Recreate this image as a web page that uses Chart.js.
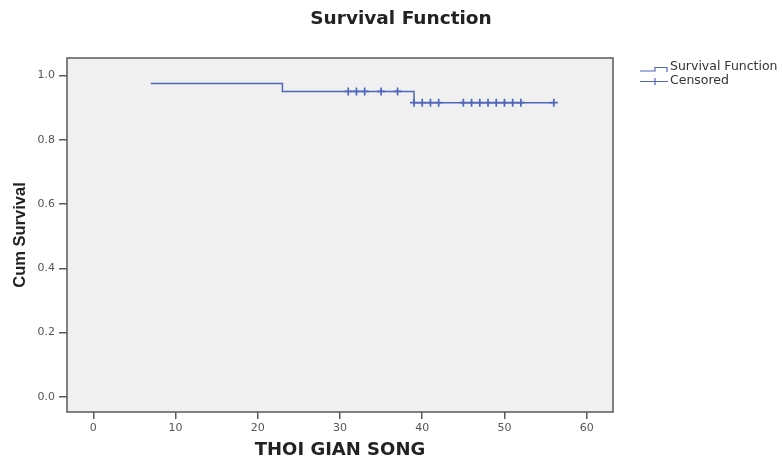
<!DOCTYPE html>
<html><head><meta charset="utf-8">
<script src="https://cdn.jsdelivr.net/npm/chart.js@4/dist/chart.umd.min.js"></script>
<style>html,body{margin:0;padding:0;background:#fff;} #wrap{width:782px;height:460px;position:relative;}</style>
</head><body><div id="wrap"><canvas id="c" width="782" height="460"></canvas></div>
<script>
const stepTimes = [7, 23, 39, 56];
const stepSurvival = [0.975, 0.95, 0.915, 0.915];
const censoredTimes = [31, 32, 33, 35, 37, 39, 40, 41, 42, 45, 46, 47, 48, 49, 50, 51, 52, 56];
const censoredSurvival = [0.95, 0.95, 0.95, 0.95, 0.95, 0.915, 0.915, 0.915, 0.915, 0.915, 0.915, 0.915, 0.915, 0.915, 0.915, 0.915, 0.915, 0.915];
const xTicks = [0, 10, 20, 30, 40, 50, 60];
const yTicks = [0, 0.2, 0.4, 0.6, 0.8, 1.0];
const seriesNames = ['Survival Function', 'Censored'];
const chartTitle = 'Survival Function';
const xTitle = 'THOI GIAN SONG';
const yTitle = 'Cum Survival';

const lineColor = '#4f67b8';
const frameColor = '#5a5a5a';

const bgPlugin = {
  id: 'bg',
  beforeDraw(chart) {
    const {ctx, chartArea: a} = chart;
    ctx.save();
    ctx.fillStyle = '#f0f0f0';
    ctx.fillRect(a.left, a.top, a.right - a.left, a.bottom - a.top);
    ctx.restore();
  },
  beforeDatasetsDraw(chart) {
    const {ctx, chartArea: a} = chart;
    ctx.save();
    ctx.strokeStyle = frameColor;
    ctx.lineWidth = 1.5;
    ctx.strokeRect(a.left, a.top, a.right - a.left, a.bottom - a.top);
    ctx.restore();
  }
};

const titleLegendPlugin = {
  id: 'titleLegend',
  afterDraw(chart) {
    const ctx = chart.ctx;
    ctx.save();
    ctx.fillStyle = '#222';
    ctx.font = 'bold 18.5px "DejaVu Sans"';
    ctx.textAlign = 'center';
    ctx.textBaseline = 'middle';
    ctx.fillText(chartTitle, 401, 19);
    ctx.strokeStyle = lineColor;
    ctx.lineWidth = 1.2;
    ctx.beginPath();
    ctx.moveTo(640, 71); ctx.lineTo(655, 71); ctx.lineTo(655, 67.5); ctx.lineTo(667, 67.5); ctx.lineTo(667, 72);
    ctx.stroke();
    ctx.beginPath();
    ctx.moveTo(640, 81.5); ctx.lineTo(668, 81.5);
    ctx.moveTo(655, 78); ctx.lineTo(655, 85);
    ctx.stroke();
    ctx.fillStyle = '#333';
    ctx.font = '12.5px "DejaVu Sans"';
    ctx.textAlign = 'left';
    ctx.fillText(seriesNames[0], 670, 67);
    ctx.fillText(seriesNames[1], 670, 81);
    ctx.restore();
  }
};

new Chart(document.getElementById('c'), {
  type: 'scatter',
  data: {
    datasets: [
      {
        label: seriesNames[0],
        data: stepTimes.map((x, i) => ({x: x, y: stepSurvival[i]})),
        showLine: true,
        stepped: true,
        borderColor: lineColor,
        borderWidth: 1.5,
        pointRadius: 0,
        fill: false
      },
      {
        label: seriesNames[1],
        data: censoredTimes.map((x, i) => ({x: x, y: censoredSurvival[i]})),
        showLine: false,
        pointStyle: 'cross',
        pointRadius: 4,
        pointBorderWidth: 1.7,
        borderColor: lineColor,
        backgroundColor: lineColor
      }
    ]
  },
  options: {
    responsive: false,
    animation: false,
    devicePixelRatio: 1,
    layout: {padding: {left: 0, right: 169, top: 58, bottom: 0}},
    plugins: {
      legend: {display: false},
      tooltip: {enabled: false},
      title: {display: false}
    },
    scales: {
      x: {
        type: 'linear',
        min: -3.2,
        max: 63.2,
        afterBuildTicks: s => { s.ticks = xTicks.map(v => ({value: v})); },
        afterFit: s => { s.height = 48; },
        border: {display: false},
        grid: {drawOnChartArea: false, drawTicks: true, tickLength: 7, color: frameColor, lineWidth: 1.5},
        ticks: {color: '#555', font: {family: 'DejaVu Sans', size: 11}, padding: 3, callback: v => String(v)},
        title: {display: true, text: xTitle, color: '#222', font: {family: 'DejaVu Sans', size: 18, weight: 'bold', lineHeight: 1.1}, padding: {top: 0, bottom: 0}}
      },
      y: {
        type: 'linear',
        min: -0.047,
        max: 1.054,
        afterBuildTicks: s => { s.ticks = yTicks.map(v => ({value: v})); },
        afterFit: s => { s.width = 67; },
        border: {display: false},
        grid: {drawOnChartArea: false, drawTicks: true, tickLength: 8, color: frameColor, lineWidth: 1.5},
        ticks: {color: '#555', font: {family: 'DejaVu Sans', size: 11}, padding: 4, callback: v => Number(v).toFixed(1)},
        title: {display: true, text: yTitle, color: '#222', font: {family: 'Liberation Sans', size: 16.5, weight: 'bold', lineHeight: 1.2}, padding: {top: 11, bottom: 0}}
      }
    }
  },
  plugins: [bgPlugin, titleLegendPlugin]
});
</script>
</body></html>
